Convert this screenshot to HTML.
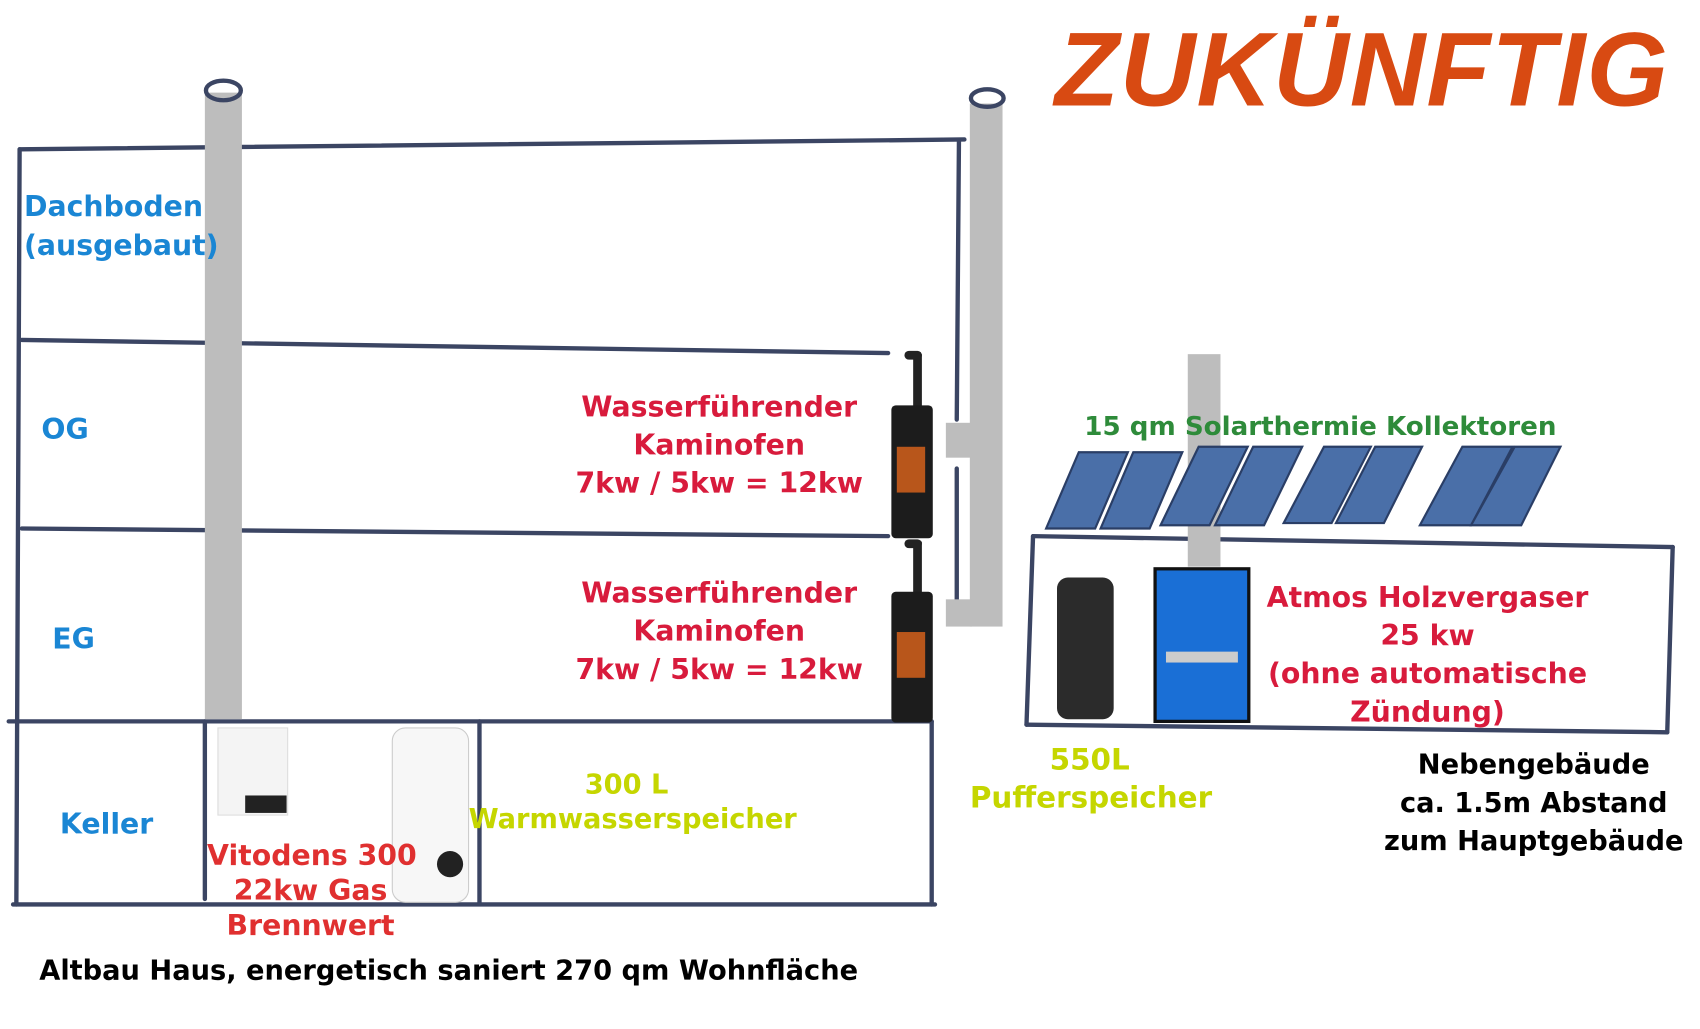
<!DOCTYPE html>
<html><head><meta charset="utf-8"><style>
html,body{margin:0;padding:0;background:#fff;overflow:hidden}
#w{width:1560px;height:944px;position:relative;transform:scale(1.0897);transform-origin:0 0;font-family:"DejaVu Sans","Liberation Sans",sans-serif;font-weight:bold}
.t{position:absolute;white-space:nowrap;text-align:center}
.b{color:#1a86d4;font-size:26px}
.r{color:#d81b3c;font-size:26px;line-height:35px}
.y{color:#c5d600;font-size:25px;line-height:32px}
.k{color:#000;font-size:25px;line-height:35px}
</style></head><body><div id="w">
<svg width="1560" height="944" style="position:absolute;left:0;top:0">
<g stroke="#3b4563" stroke-width="4" fill="none" stroke-linecap="round">
<line x1="18" y1="137" x2="885" y2="128"/>
<line x1="18" y1="137" x2="15" y2="830"/>
<line x1="880" y1="130" x2="878" y2="385"/>
<line x1="878" y1="430" x2="878" y2="550"/>
<line x1="20" y1="312" x2="815" y2="324"/>
<line x1="20" y1="485" x2="815" y2="492"/>
<line x1="8" y1="662" x2="855" y2="662"/>
<line x1="12" y1="830" x2="858" y2="830"/>
<line x1="855" y1="662" x2="855" y2="830"/>
<line x1="188" y1="662" x2="188" y2="825"/>
<line x1="440" y1="662" x2="440" y2="828"/>
<line x1="948" y1="492" x2="1535" y2="502"/>
<line x1="948" y1="492" x2="942" y2="665"/>
<line x1="1535" y1="502" x2="1530" y2="672"/>
<line x1="942" y1="665" x2="1530" y2="672"/>
</g>
<rect x="188" y="85" width="34" height="575" fill="#bdbdbd"/>
<ellipse cx="205" cy="83" rx="16" ry="9" fill="none" stroke="#3b4563" stroke-width="4"/>
<rect x="890" y="95" width="30" height="480" fill="#bdbdbd"/>
<ellipse cx="906" cy="90" rx="15" ry="8" fill="none" stroke="#3b4563" stroke-width="4"/>
<rect x="868" y="388" width="24" height="32" fill="#bdbdbd"/>
<rect x="868" y="550" width="24" height="25" fill="#bdbdbd"/>
<rect x="1090" y="325" width="30" height="195" fill="#bdbdbd"/>
<g fill="#4a6fa8" stroke="#2a3e66" stroke-width="2">
<polygon points="990,415 1035,415 1005,485 960,485"/><polygon points="1040,415 1085,415 1055,485 1010,485"/>
<polygon points="1100,410 1145,410 1110,482 1065,482"/><polygon points="1150,410 1195,410 1160,482 1115,482"/>
<polygon points="1215,410 1258,410 1222,480 1178,480"/><polygon points="1262,410 1305,410 1270,480 1226,480"/>
<polygon points="1342,410 1388,410 1350,482 1303,482"/><polygon points="1390,410 1432,410 1396,482 1350,482"/>
</g>
<g>
<rect x="838" y="325" width="8" height="50" fill="#222"/><rect x="830" y="322" width="16" height="8" rx="4" fill="#222"/>
<rect x="818" y="372" width="38" height="122" rx="4" fill="#1c1c1c"/><rect x="823" y="410" width="26" height="42" fill="#b8561b"/>
<rect x="838" y="497" width="8" height="48" fill="#222"/><rect x="830" y="495" width="16" height="8" rx="4" fill="#222"/>
<rect x="818" y="543" width="38" height="120" rx="4" fill="#1c1c1c"/><rect x="823" y="580" width="26" height="42" fill="#b8561b"/>
</g>
<rect x="200" y="668" width="64" height="80" fill="#f4f4f4" stroke="#ddd"/><rect x="225" y="730" width="38" height="16" fill="#222"/>
<rect x="360" y="668" width="70" height="160" rx="12" fill="#f7f7f7" stroke="#ccc"/><circle cx="413" cy="793" r="12" fill="#222"/>
<rect x="970" y="530" width="52" height="130" rx="10" fill="#2b2b2b"/>
<rect x="1060" y="522" width="86" height="140" fill="#1a6fd6" stroke="#111" stroke-width="3"/>
<rect x="1070" y="598" width="66" height="10" fill="#ccc"/>
</svg>
<div class="t" style="left:968px;top:10px;font-family:'Liberation Sans',sans-serif;font-style:italic;font-size:96px;color:#d84a12;letter-spacing:1px">ZUKÜNFTIG</div>
<div class="t b" style="left:22px;top:172px;line-height:36px;text-align:left">Dachboden<br>(ausgebaut)</div>
<div class="t b" style="left:38px;top:380px">OG</div>
<div class="t b" style="left:48px;top:572px">EG</div>
<div class="t b" style="left:55px;top:742px">Keller</div>
<div class="t r" style="left:515px;top:357px;width:290px">Wasserführender<br>Kaminofen<br>7kw / 5kw = 12kw</div>
<div class="t r" style="left:515px;top:528px;width:290px">Wasserführender<br>Kaminofen<br>7kw / 5kw = 12kw</div>
<div class="t r" style="left:190px;top:770px;width:190px;line-height:32px;color:#e03030">Vitodens 300<br>22kw Gas<br>Brennwert</div>
<div class="t y" style="left:430px;top:704px;width:290px">300 L<br>Warmwasserspeicher</div>
<div class="t y" style="left:890px;top:680px;width:220px;line-height:35px;font-size:27px">550L<br>Pufferspeicher</div>
<div class="t" style="left:995px;top:377px;font-size:24px;color:#2e8b3a">15 qm Solarthermie Kollektoren</div>
<div class="t r" style="left:1155px;top:532px;width:310px">Atmos Holzvergaser<br>25 kw<br>(ohne automatische<br>Zündung)</div>
<div class="t k" style="left:1260px;top:684px;width:295px">Nebengebäude<br>ca. 1.5m Abstand<br>zum Hauptgebäude</div>
<div class="t k" style="left:36px;top:873px">Altbau Haus, energetisch saniert 270 qm Wohnfläche</div>
</div></body></html>
